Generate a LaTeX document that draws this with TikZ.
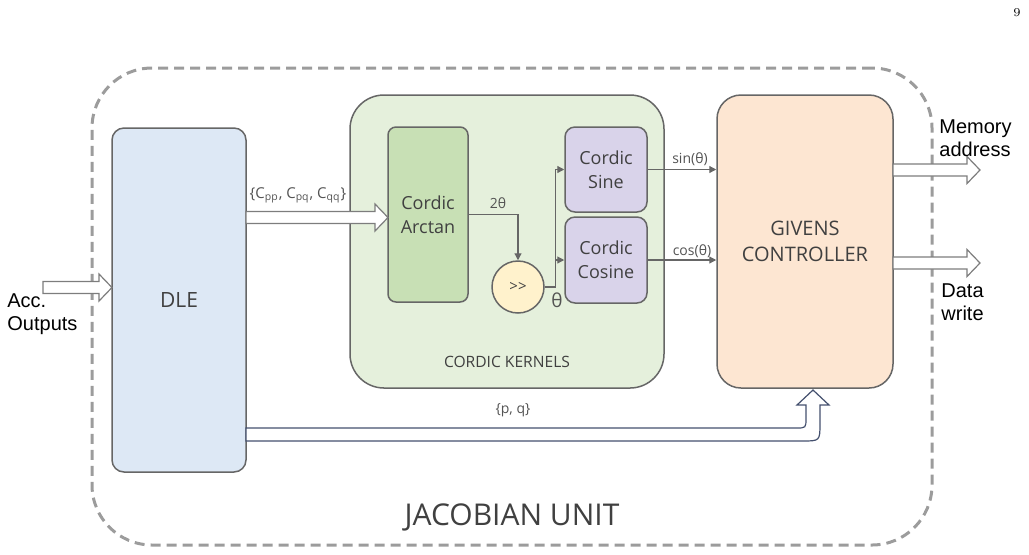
\documentclass[tikz,border=0pt]{standalone}
\usepackage{fontspec}
\setsansfont{Open Sans}
\newfontfamily\arialfont{Liberation Sans}
\usetikzlibrary{arrows.meta,positioning,calc}
\definecolor{dlefill}{HTML}{DDE8F5}
\definecolor{kernfill}{HTML}{E5F0DC}
\definecolor{atanfill}{HTML}{C8E0B5}
\definecolor{trigfill}{HTML}{D9D3EA}
\definecolor{shiftfill}{HTML}{FFF2CC}
\definecolor{givfill}{HTML}{FDE6D2}
\definecolor{edge}{HTML}{666666}
\definecolor{dashgrey}{HTML}{9C9C9C}
\definecolor{pqedge}{HTML}{44506E}
\definecolor{txt}{HTML}{404040}

\begin{document}
\begin{tikzpicture}[x=0.5pt, y=-0.5pt,
  box/.style={draw=edge, line width=0.75pt, inner sep=0pt, align=center,
              text=txt, font=\sffamily\fontsize{9}{12}\selectfont},
  lbl/.style={text=txt!90, inner sep=1pt, font=\sffamily\fontsize{7}{8}\selectfont},
  side/.style={align=left, inner sep=0pt, font=\arialfont\fontsize{10}{11.5}\selectfont},
  conn/.style={draw=edge, line width=0.6pt, -{Triangle[length=3.5pt,width=3.5pt]}},
  hollow/.style={draw=edge!85, fill=white, line width=0.6pt}]
\def\hollow#1#2#3{% block arrow from x #1 to tip #2 at height #3
  \draw[hollow] (#1,#3-6) -- (#2-13,#3-6) -- (#2-13,#3-13.5) -- (#2,#3)
    -- (#2-13,#3+13.5) -- (#2-13,#3+6) -- (#1,#3+6) -- cycle;}
\useasboundingbox (0,0) rectangle (1029,554);

% jacobian unit
\node[draw=dashgrey, line width=1.5pt, dash pattern=on 5pt off 3pt,
      rounded corners=30pt, minimum width=420pt, minimum height=238.5pt]
      (jac) at (512,306.5) {};
\node[text=txt, font=\sffamily\fontsize{15}{18}\selectfont] (jaclbl) at (512,517) {JACOBIAN UNIT};

% blocks
\node[box, fill=dlefill, rounded corners=6pt, minimum width=67pt, minimum height=172pt,
      font=\sffamily\fontsize{10.5}{12}\selectfont] (dle) at (179,300) {DLE};
\node[box, fill=kernfill, rounded corners=17pt, minimum width=157pt, minimum height=146.5pt]
      (kern) at (507,241.5) {};
\node[text=txt, font=\sffamily\fontsize{7.8}{9}\selectfont] (kernlbl) at (507,362) {CORDIC KERNELS};
\node[box, fill=atanfill, rounded corners=4pt, minimum width=40pt, minimum height=87.5pt]
      (atan) at (428,214.5) {Cordic\\Arctan};
\node[box, fill=trigfill, rounded corners=5pt, minimum width=41pt, minimum height=42.5pt]
      (sine) at (606,169.5) {Cordic\\Sine};
\node[box, fill=trigfill, rounded corners=5pt, minimum width=41pt, minimum height=43pt]
      (cosine) at (606,260) {Cordic\\Cosine};
\node[box, circle, fill=shiftfill, minimum size=26pt, font=\sffamily\fontsize{7.5}{9}\selectfont]
      (shift) at (518,287) {>{}>};
\node[box, fill=givfill, rounded corners=12pt, minimum width=88pt, minimum height=146.5pt,
      font=\sffamily\fontsize{10}{13}\selectfont] (giv) at (805,241.5) {GIVENS\\CONTROLLER};

% wide arrows
\hollow{43}{112}{287.5}
\hollow{246}{388}{217.5}
\hollow{893}{980}{170}
\hollow{893}{980}{263}
\draw[draw=pqedge, fill=white, line width=0.6pt]
  (246,428) -- (796,428) .. controls (806,428) .. (806,418) -- (806,405)
  -- (797,405) -- (813,390) -- (829,405) -- (820,405) -- (820,423)
  .. controls (820,441) .. (802,441) -- (246,441) -- cycle;

% thin connectors
\draw[conn] (atan.east) -| (shift.north);
\coordinate (tap) at ($(shift.east)+(11,0)$);
\draw[conn] (shift.east) -- (tap) |- (sine.west);
\draw[conn] (tap |- cosine.west) -- (cosine.west);
\draw[conn] (sine.east) -- (sine.east -| giv.west);
\draw[conn] (cosine.east) -- (cosine.east -| giv.west);

% labels
\node[lbl, font=\sffamily\fontsize{7.5}{8}\selectfont] (cin) at (298,195)
  {\{C\textsubscript{pp}, C\textsubscript{pq}, C\textsubscript{qq}\}};
\node[lbl] (twotheta) at (498,203) {2θ};
\node[lbl, font=\sffamily\fontsize{9.5}{10}\selectfont] (theta) at (557,300) {θ};
\node[lbl] (sinlbl) at (690,159) {sin(θ)};
\node[lbl] (coslbl) at (692,251) {cos(θ)};
\node[lbl] (pqlbl) at (513,410) {\{p, q\}};
\node[side, anchor=west] (accout) at (7,314) {Acc.\\Outputs};
\node[side, anchor=west] (memaddr) at (939,138.5) {Memory\\address};
\node[side, anchor=west] (datawr) at (941,302) {Data\\write};
\node[font=\rmfamily\fontsize{6}{7}\selectfont, inner sep=0pt] (pagenum) at (1017,13) {9};
\end{tikzpicture}
\end{document}
